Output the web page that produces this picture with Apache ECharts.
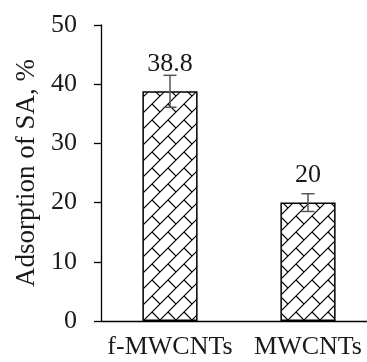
<!DOCTYPE html>
<html>
<head>
<meta charset="utf-8">
<script src="https://cdn.jsdelivr.net/npm/echarts@6/dist/echarts.min.js"></script>
<style>
  html, body { margin: 0; padding: 0; background: #fff; overflow: hidden; }
  /* the plot runs slightly past the right edge of the view */
  #chart { width: 377px; height: 362px; }
</style>
</head>
<body>
<div id="chart"></div>
<script>
// Adsorption of SA by functionalised and pristine MWCNTs
const categories = ['f-MWCNTs', 'MWCNTs'];
const adsorption = [38.8, 20];
const errors = [2.7, 1.5];
const yMin = 0, yMax = 50, yStep = 10;

const FONT = '"Liberation Serif", "Times New Roman", serif';
const TEXT = '#1a1a1a';

// Diagonal-brick hatch used as the bar fill
function brickPattern() {
  const s = 16;
  const c = document.createElement('canvas');
  c.width = s; c.height = s;
  const g = c.getContext('2d');
  g.fillStyle = '#fff';
  g.fillRect(0, 0, s, s);
  g.strokeStyle = '#000';
  g.lineWidth = 1.2;
  g.beginPath();
  for (let dx = -s; dx <= s; dx += s) {
    for (let dy = -s; dy <= s; dy += s) {
      // long "/" stroke
      g.moveTo(dx - 1, dy + s + 1);
      g.lineTo(dx + s + 1, dy - 1);
      // short "\" connector between neighbouring strokes
      g.moveTo(dx + s / 2, dy + s / 2);
      g.lineTo(dx + s, dy + s);
    }
  }
  g.stroke();
  return c;
}

const chart = echarts.init(document.getElementById('chart'), null, { renderer: 'canvas' });

chart.setOption({
  animation: false,
  backgroundColor: '#fff',
  textStyle: { fontFamily: FONT, color: TEXT },
  grid: { left: 101, right: 0, top: 25, bottom: 41 },
  xAxis: {
    type: 'category',
    data: categories,
    axisLine: { lineStyle: { color: '#000', width: 1.3 } },
    axisTick: { show: false },
    axisLabel: { interval: 0, color: TEXT, fontFamily: FONT, fontSize: 26, margin: 13 }
  },
  yAxis: {
    type: 'value',
    min: yMin,
    max: yMax,
    interval: yStep,
    name: 'Adsorption of SA, %',
    nameLocation: 'middle',
    nameGap: 58,
    nameTextStyle: { color: TEXT, fontFamily: FONT, fontSize: 27 },
    axisLine: { show: true, lineStyle: { color: '#000', width: 1.3 } },
    axisTick: { show: true, length: 7, lineStyle: { color: '#000', width: 1.3 } },
    splitLine: { show: false },
    axisLabel: { color: TEXT, fontFamily: FONT, fontSize: 26, margin: 24 }
  },
  series: [
    {
      type: 'bar',
      data: adsorption,
      barWidth: '40%',
      itemStyle: {
        color: { image: brickPattern(), repeat: 'repeat' },
        borderColor: '#000',
        borderWidth: 1.5
      },
      label: {
        show: true,
        position: 'top',
        distance: 14,
        color: TEXT,
        fontFamily: FONT,
        fontSize: 26
      },
      z: 2
    },
    {
      type: 'custom',
      data: adsorption.map((v, i) => [i, v - errors[i], v + errors[i]]),
      renderItem(params, api) {
        const lo = api.coord([api.value(0), api.value(1)]);
        const hi = api.coord([api.value(0), api.value(2)]);
        const x = lo[0];
        const hw = 6.5;
        const style = { stroke: '#555', lineWidth: 1.5 };
        return {
          type: 'group',
          children: [
            { type: 'line', shape: { x1: x, y1: lo[1], x2: x, y2: hi[1] }, style },
            { type: 'line', shape: { x1: x - hw, y1: hi[1], x2: x + hw, y2: hi[1] }, style },
            { type: 'line', shape: { x1: x - hw, y1: lo[1], x2: x + hw, y2: lo[1] }, style }
          ]
        };
      },
      z: 5
    }
  ]
});
</script>
</body>
</html>
